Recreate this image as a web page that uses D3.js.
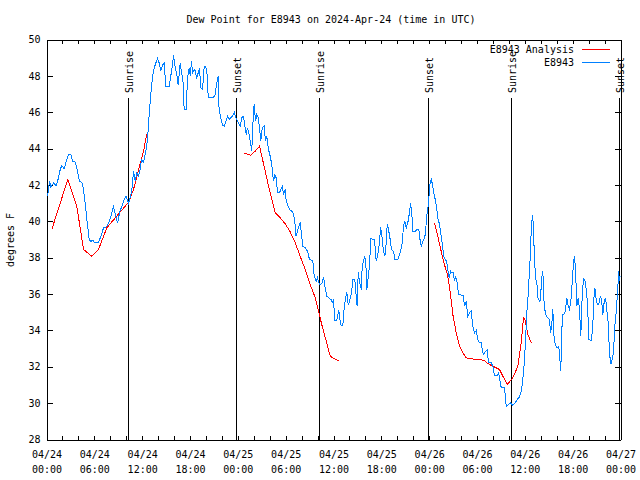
<!DOCTYPE html>
<html><head><meta charset="utf-8">
<script src="https://cdn.jsdelivr.net/npm/d3@7"></script>
<style>body{margin:0;background:#fff}svg{display:block}</style>
</head><body><svg id="c" width="640" height="480"></svg>
<script>
const title = "Dew Point for E8943 on 2024-Apr-24 (time in UTC)";
const yLabel = "degrees F";
const seriesNames = ["E8943 Analysis", "E8943"];
const seriesColors = ["#ff0000", "#0080ff"];
const yTicks = [28,30,32,34,36,38,40,42,44,46,48,50];
const eventNames = ["Sunrise","Sunset","Sunrise","Sunset","Sunrise","Sunset"];
const eventHours = [10.17,23.77,34.2,47.8,58.25,71.8];

// E8943 observations: hours since 2024-04-24 00:00 UTC, and dew point (F)
const obsHours = [0.13,0.38,0.54,0.88,1.22,1.51,1.72,1.92,2.22,2.55,2.76,3.05,3.30,3.60,3.80,4.14,4.43,4.64,4.85,5.06,5.36,5.56,5.81,5.98,6.52,6.81,7.15,7.56,7.90,8.19,8.40,8.62,8.91,9.16,9.45,9.75,10.00,10.29,10.57,10.75,10.91,11.13,11.33,11.54,11.75,11.92,12.17,12.46,12.67,12.88,13.08,13.30,13.51,13.71,13.92,14.14,14.34,14.55,14.76,14.97,15.39,15.59,15.81,15.93,16.09,16.34,16.52,16.77,16.93,17.10,17.27,17.52,17.69,17.90,18.03,18.19,18.31,18.60,18.85,19.03,19.19,19.36,19.57,19.78,19.98,20.20,20.28,20.82,21.11,21.36,21.54,21.61,21.79,22.08,22.29,22.49,22.70,22.92,23.33,23.55,23.75,24.08,24.30,24.50,24.71,24.92,25.05,25.21,25.46,25.63,25.75,25.88,26.05,26.22,26.38,26.56,26.72,26.88,27.06,27.31,27.47,27.63,27.85,28.06,28.26,28.47,28.64,28.81,28.98,29.23,29.39,29.57,29.73,29.94,30.07,30.23,30.48,30.90,31.15,31.27,31.49,31.65,31.82,31.99,32.15,32.45,32.74,32.99,33.40,33.58,33.83,33.99,34.24,34.53,34.75,34.96,35.16,35.50,35.71,35.84,36.00,36.16,36.41,36.66,36.84,36.97,37.17,37.34,37.51,37.67,37.85,38.01,38.26,38.42,38.67,38.85,38.97,39.10,39.26,39.48,39.60,39.76,39.93,40.10,40.18,40.35,40.52,40.68,41.14,41.36,41.56,41.77,41.90,42.06,42.27,42.44,42.61,42.74,42.90,43.11,43.28,43.53,43.69,44.07,44.37,44.62,44.78,44.95,45.12,45.32,45.53,45.66,45.82,45.95,46.29,46.45,46.70,46.88,47.00,47.20,47.42,47.54,47.63,47.75,47.92,48.08,48.26,48.42,48.58,48.76,48.92,49.08,49.30,49.51,49.71,49.84,50.01,50.18,50.34,50.51,50.68,50.84,51.02,51.18,51.34,51.52,51.68,52.27,52.43,52.65,52.85,53.10,53.27,53.47,53.69,53.90,54.10,54.31,54.53,54.69,54.85,55.03,55.28,55.44,55.78,55.98,56.20,56.53,56.70,56.86,57.04,57.45,57.66,57.95,58.20,58.49,58.79,59.04,59.33,59.55,59.75,59.96,60.09,60.25,60.38,60.50,60.68,60.84,61.00,61.18,61.34,61.50,61.63,61.84,61.97,62.09,62.26,62.38,62.59,62.88,63.10,63.22,63.38,63.51,63.63,63.81,64.01,64.26,64.43,64.51,64.64,64.76,64.98,65.10,65.27,65.44,65.60,65.77,65.94,66.11,66.23,66.36,66.52,66.70,66.86,67.02,67.20,67.36,67.52,67.70,67.86,68.03,68.33,68.53,68.61,68.78,68.95,69.12,69.28,69.46,69.62,69.79,69.96,70.12,70.28,70.46,70.62,70.78,70.96,71.12,71.28,71.45,71.65,71.77,71.85,71.95];
const obsValues = [41.38,42.2,41.9,42.1,41.97,42.4,42.85,43.07,42.9,43.4,43.7,43.67,43.3,43.25,42.94,42.2,42.15,41.75,41.0,40.1,39.0,38.9,38.96,38.85,38.85,39.15,39.64,39.7,40.0,40.47,40.8,40.4,39.9,40.47,40.83,41.2,41.38,41.0,41.4,41.9,42.76,42.2,42.67,42.5,42.85,43.4,43.25,43.86,44.5,45.87,46.97,47.98,48.44,48.7,48.95,48.7,48.26,48.6,48.7,47.4,47.4,48.0,48.6,49.17,48.6,48.07,47.5,48.7,48.17,47.9,46.15,46.15,47.9,48.44,47.98,48.8,48.17,48.35,47.9,48.17,48.44,47.35,47.25,48.53,48.53,47.9,46.8,46.8,46.88,47.6,47.98,46.4,45.8,45.3,45.23,45.5,45.78,45.6,45.78,46.0,45.7,45.4,45.23,45.7,45.78,45.14,44.77,45.14,44.68,44.22,43.86,45.3,46.46,45.5,45.87,45.7,45.14,44.4,45.14,45.23,44.4,44.68,43.95,43.58,43.12,42.2,42.57,42.39,41.57,41.57,41.75,41.93,41.47,41.75,41.1,40.92,40.65,40.52,40.0,39.18,39.45,39.73,39.9,39.27,38.63,38.54,38.35,37.9,37.84,36.98,36.7,36.89,36.52,36.56,36.93,36.34,35.88,35.75,35.7,35.52,35.7,34.54,34.54,35.1,34.5,34.27,34.27,35.24,35.74,36.1,35.42,35.6,36.07,36.8,36.8,35.88,35.33,37.2,36.71,36.25,37.53,37.8,38.08,37.35,36.25,36.89,37.62,39.04,39.0,37.8,38.17,38.82,39.7,39.27,38.35,38.08,38.82,39.86,39.55,39.0,38.45,38.35,37.9,37.9,38.27,38.82,39.73,40.0,39.64,39.92,40.47,40.98,40.47,39.46,39.46,39.55,39.55,38.9,38.63,38.9,39.08,39.36,39.92,40.47,41.02,42.02,42.3,42.02,41.57,41.2,40.83,40.19,39.83,39.18,38.54,38.08,37.9,37.8,37.35,36.89,37.26,37.17,37.17,36.71,36.95,36.62,35.97,35.92,35.33,35.6,34.78,35.0,35.06,34.23,33.87,33.99,33.5,33.32,33.35,32.85,32.67,32.85,32.91,32.22,32.22,32.03,31.52,31.52,31.67,31.3,30.84,30.84,29.83,29.92,30.02,29.87,30.02,30.2,30.34,30.66,31.3,32.35,33.5,34.97,35.7,36.62,38.08,39.92,40.32,38.35,36.8,36.71,35.79,35.6,35.7,36.8,37.26,35.7,34.87,34.69,34.6,33.87,34.32,35.19,33.77,33.22,33.04,33.13,32.22,31.76,34.05,34.87,34.91,35.15,35.79,35.33,35.15,35.6,36.62,37.8,38.08,37.35,35.33,35.79,35.15,33.68,35.97,36.84,36.8,36.25,35.52,33.5,33.43,34.23,35.52,36.34,35.7,35.42,35.42,35.88,35.7,34.87,35.6,35.79,35.15,34.41,32.77,32.13,32.4,32.77,34.23,34.97,36.25,37.26,36.71,37.0];

// E8943 Analysis: hours since 2024-04-24 00:00 UTC (null breaks the line)
const anaHours = [0.66,2.67,3.80,4.64,5.68,6.52,7.56,10.29,10.91,12.17,12.58,18,24.71,25.13,25.63,26.18,26.72,27.01,27.43,27.85,28.26,28.69,29.31,29.94,30.57,31.20,31.82,32.45,33.08,33.71,34.12,34.53,35.09,35.59,35.91,36.75,42,48.67,49.08,49.51,49.92,50.34,50.68,50.97,51.39,51.81,52.22,52.65,53.27,54.10,54.85,55.36,55.98,56.82,57.79,58.49,59.12,59.55,59.83,60.0,60.38,60.80];
const anaValues = [39.55,42.3,40.83,38.45,38.08,38.45,39.64,41.05,41.75,43.86,44.8,null,43.77,43.71,43.64,43.86,44.13,43.58,42.76,41.93,41.2,40.47,40.19,39.86,39.42,38.82,38.08,37.35,36.52,35.79,35.06,34.32,33.41,32.58,32.49,32.3,null,39.92,39.18,38.35,37.62,36.98,35.97,34.87,33.87,33.13,32.77,32.49,32.44,32.4,32.36,32.18,32.03,31.85,31.02,31.39,32.03,33.32,34.69,34.6,33.77,33.32];

const t0 = Date.UTC(2024, 3, 24);
const H = 3600e3;
const font = "'DejaVu Sans Mono','Liberation Mono',monospace";

const svg = d3.select("#c");
svg.append("rect").attr("width",640).attr("height",480).attr("fill","#fff");

const L = 46.5, R = 620.5, T = 39.5, B = 439.5;
const x = d3.scaleUtc().domain([new Date(t0), new Date(t0 + 72*H)]).range([L, R]);
const y = d3.scaleLinear().domain([28, 50]).range([B, T]);

const obs = obsHours.map((h,i)=>({t:new Date(t0+h*H), v:obsValues[i]}));
const ana = anaHours.map((h,i)=>({t:new Date(t0+h*H), v:anaValues[i]}));

svg.append("defs").append("clipPath").attr("id","clip")
  .append("rect").attr("x",L).attr("y",T).attr("width",R-L).attr("height",B-T);

// axes
const fmtDate = d3.utcFormat("%m/%d"), fmtTime = d3.utcFormat("%H:%M");
const xTickVals = d3.utcHour.every(2).range(new Date(t0), new Date(t0+72*H+1));
const bottom = d3.axisBottom(x).tickValues(xTickVals).tickSizeInner(-4).tickSizeOuter(0).tickPadding(11)
  .tickFormat(d => d.getUTCHours() % 6 === 0 ? "x" : "");
const gb = svg.append("g").attr("transform",`translate(0,${B})`).call(bottom);
gb.selectAll(".tick text").each(function(d){
  const t = d3.select(this);
  if (d.getUTCHours() % 6 !== 0) { t.remove(); return; }
  t.text(null);
  t.append("tspan").attr("x",0).text(fmtDate(d));
  t.append("tspan").attr("x",0).attr("dy","1.5em").text(fmtTime(d));
});
svg.append("g").attr("transform",`translate(0,${T})`)
  .call(d3.axisTop(x).tickValues(xTickVals).tickSizeInner(-4).tickSizeOuter(0).tickFormat(""));
svg.append("g").attr("transform",`translate(${L},0)`)
  .call(d3.axisLeft(y).tickValues(yTicks).tickSizeInner(-6).tickSizeOuter(0).tickPadding(6).tickFormat(d3.format("d")));
svg.append("g").attr("transform",`translate(${R},0)`)
  .call(d3.axisRight(y).tickValues(yTicks).tickSizeInner(-6).tickSizeOuter(0).tickFormat(""));
svg.selectAll(".tick line, .domain").attr("stroke","#000").attr("stroke-width",1).attr("shape-rendering","crispEdges");
svg.selectAll(".tick text").attr("font-family",font).attr("font-size",10).attr("fill","#000");

// sunrise / sunset
eventHours.forEach((h,i)=>{
  const px = Math.round(x(new Date(t0+h*H))) + 0.5;
  svg.append("line").attr("x1",px).attr("x2",px).attr("y1",98).attr("y2",B)
    .attr("stroke","#000").attr("stroke-width",1).attr("shape-rendering","crispEdges");
  svg.append("text").attr("transform",`translate(${px+4},93) rotate(-90)`)
    .attr("font-family",font).attr("font-size",10).attr("fill","#000").text(eventNames[i]);
});

// series
const line = d3.line().defined(d => d.v != null).x(d => x(d.t)).y(d => y(d.v));
const gp = svg.append("g").attr("clip-path","url(#clip)");
gp.append("path").datum(ana).attr("d",line).attr("fill","none").attr("stroke",seriesColors[0])
  .attr("stroke-width",1).attr("shape-rendering","crispEdges");
gp.append("path").datum(obs).attr("d",line).attr("fill","none").attr("stroke",seriesColors[1])
  .attr("stroke-width",1).attr("shape-rendering","crispEdges");

// title & labels
svg.append("text").attr("x",331).attr("y",23).attr("text-anchor","middle")
  .attr("font-family",font).attr("font-size",10).text(title);
svg.append("text").attr("transform","translate(14,240) rotate(-90)").attr("text-anchor","middle")
  .attr("font-family",font).attr("font-size",10).text(yLabel);

// legend
seriesNames.forEach((n,i)=>{
  const ly = 49 + i*13;
  svg.append("text").attr("x",574).attr("y",ly+4).attr("text-anchor","end")
    .attr("font-family",font).attr("font-size",10).text(n);
  svg.append("line").attr("x1",582).attr("x2",610).attr("y1",ly+0.5).attr("y2",ly+0.5)
    .attr("stroke",seriesColors[i]).attr("stroke-width",1).attr("shape-rendering","crispEdges");
});
</script></body></html>
